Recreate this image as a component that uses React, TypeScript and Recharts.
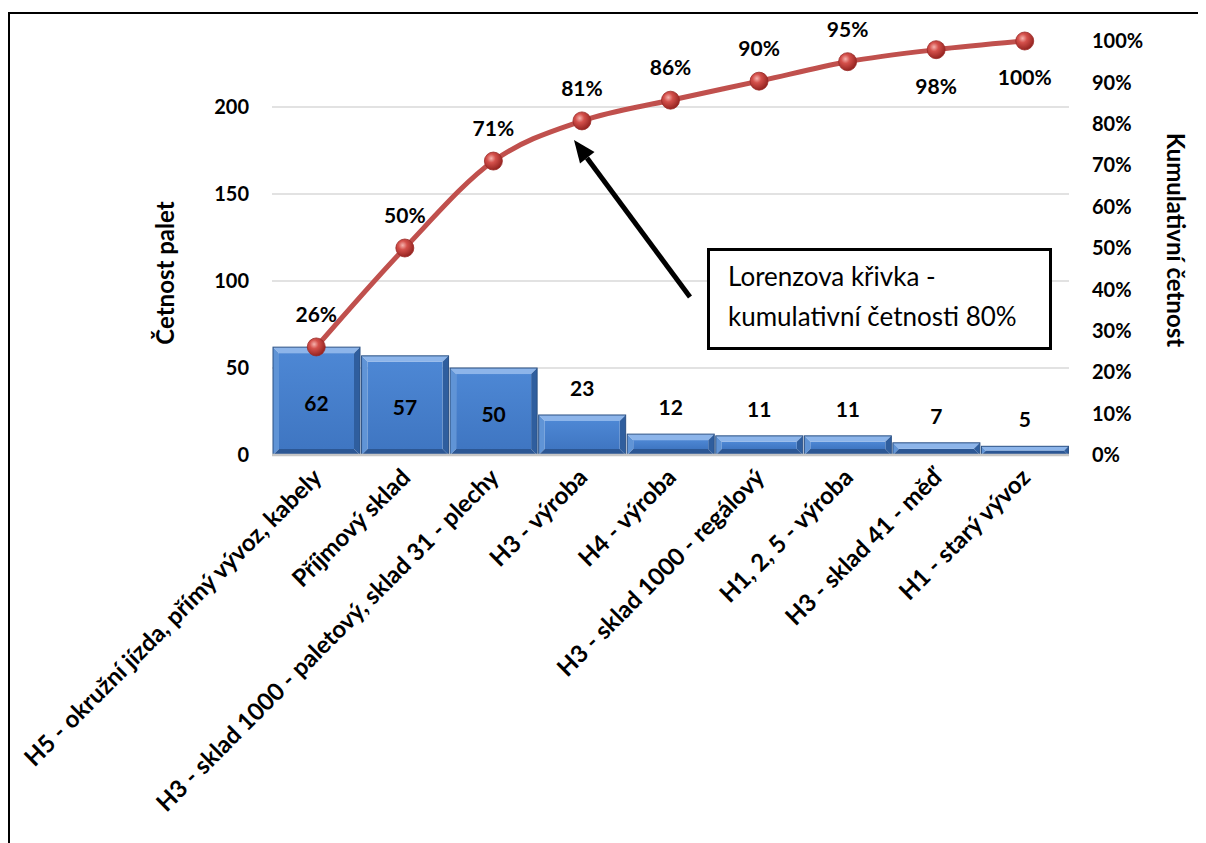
import { Bar, CartesianGrid, ComposedChart, LabelList, Line, XAxis, YAxis } from "recharts"

const categories = [
  "H5 - okružní jízda, přímý vývoz, kabely",
  "Příjmový sklad",
  "H3 - sklad 1000 - paletový, sklad 31 - plechy",
  "H3 - výroba",
  "H4 - výroba",
  "H3 - sklad 1000 - regálový",
  "H1, 2, 5 - výroba",
  "H3 - sklad 41 - měď",
  "H1 - starý vývoz",
]
const counts = [62, 57, 50, 23, 12, 11, 11, 7, 5]
const cumulativePct = [26.1, 50.0, 71.0, 80.7, 85.7, 90.3, 95.0, 97.9, 100]
const leftTicks = [0, 50, 100, 150, 200]
const rightTicks = [0, 10, 20, 30, 40, 50, 60, 70, 80, 90, 100]
const countMax = 238

const data = categories.map((name, i) => ({
  name,
  count: counts[i],
  cum: cumulativePct[i],
}))

const FONT = "Lato, 'Open Sans', sans-serif"

function BevelBar(props: any) {
  const { x, y, width: w, height: h } = props
  if (!h || h <= 0) return null
  const b = Math.min(6, h / 2, w / 2)
  return (
    <g>
      <polygon points={`${x},${y} ${x + w},${y} ${x + w - b},${y + b} ${x + b},${y + b}`} fill="#8db5ea" />
      <polygon points={`${x},${y} ${x + b},${y + b} ${x + b},${y + h - b} ${x},${y + h}`} fill="#6094d6" />
      <polygon points={`${x + w},${y} ${x + w},${y + h} ${x + w - b},${y + h - b} ${x + w - b},${y + b}`} fill="#2f5e9e" />
      <polygon points={`${x},${y + h} ${x + b},${y + h - b} ${x + w - b},${y + h - b} ${x + w},${y + h}`} fill="#2c5794" />
      <rect x={x + b} y={y + b} width={Math.max(0, w - 2 * b)} height={Math.max(0, h - 2 * b)} fill="url(#barFace)" />
      <rect x={x} y={y} width={w} height={h} fill="none" stroke="#2a5084" strokeWidth={1} />
    </g>
  )
}

function BarValue(props: any) {
  const { x, y, width, height, value, index } = props
  const cx = x + width / 2
  const ty = index < 3 ? y + height / 2 + 10 : y - 19
  return (
    <text x={cx} y={ty} textAnchor="middle" fontFamily={FONT} fontWeight={700} fontSize={21} fill="#000">
      {value}
    </text>
  )
}

function CumValue(props: any) {
  const { x, y, value, index } = props
  const below = index >= 7
  const ty = below ? y + 44 : y - 25
  return (
    <text x={x} y={ty} textAnchor="middle" fontFamily={FONT} fontWeight={700} fontSize={21} fill="#000">
      {Math.round(value)}%
    </text>
  )
}

function RedDot(props: any) {
  const { cx, cy } = props
  if (cx == null || cy == null) return null
  return <circle cx={cx} cy={cy} r={9} fill="url(#dotGrad)" stroke="#9b2a27" strokeWidth={0.8} />
}

function CategoryTick(props: any) {
  const { x, y, payload } = props
  return (
    <g transform={`translate(${x + 7},${y + 24})`}>
      <text transform="rotate(-45)" textAnchor="end" fontFamily={FONT} fontWeight={700} fontSize={24} fill="#000">
        {payload.value}
      </text>
    </g>
  )
}

export default function App() {
  const tickStyle = { fontFamily: FONT, fontWeight: 700, fontSize: 20, fill: "#000" }
  return (
    <div style={{ position: "relative", width: 1198, height: 835, background: "#fff" }}>
      <div style={{ position: "absolute", left: 0, top: 4, width: 1198, height: 831, borderLeft: "2px solid #000", borderTop: "2px solid #000" }} />
      <ComposedChart
        width={1198}
        height={835}
        data={data}
        margin={{ top: 33, right: 57, bottom: 8, left: 0 }}
        barCategoryGap={1}
        style={{ position: "absolute", left: 0, top: 0 }}
      >
        <defs>
          <linearGradient id="barFace" x1="0" y1="0" x2="0" y2="1">
            <stop offset="0%" stopColor="#4d87d4" />
            <stop offset="100%" stopColor="#3f76c2" />
          </linearGradient>
          <radialGradient id="dotGrad" cx="38%" cy="35%" r="70%">
            <stop offset="0%" stopColor="#f6b3ae" />
            <stop offset="35%" stopColor="#d4504b" />
            <stop offset="100%" stopColor="#8e1f1c" />
          </radialGradient>
        </defs>
        <CartesianGrid
          yAxisId="left"
          vertical={false}
          horizontal
          horizontalValues={leftTicks}
          stroke="#d9d9d9"
          strokeWidth={1.5}
        />
        <XAxis
          dataKey="name"
          interval={0}
          height={380}
          tickSize={0}
          tickMargin={0}
          tick={<CategoryTick />}
          axisLine={{ stroke: "#c6c6c6", strokeWidth: 2.5 }}
          tickLine={false}
        />
        <YAxis
          yAxisId="left"
          width={264}
          domain={[0, countMax]}
          ticks={leftTicks}
          allowDataOverflow
          axisLine={false}
          tickLine={false}
          tickMargin={17}
          tick={tickStyle}
        />
        <YAxis
          yAxisId="right"
          orientation="right"
          width={80}
          domain={[0, 100]}
          ticks={rightTicks}
          axisLine={false}
          tickLine={false}
          tickMargin={17}
          tickFormatter={(v: number) => `${v}%`}
          tick={tickStyle}
        />
        <Bar yAxisId="left" dataKey="count" shape={<BevelBar />} isAnimationActive={false}>
          <LabelList dataKey="count" content={<BarValue />} />
        </Bar>
        <Line
          yAxisId="right"
          type="monotone"
          dataKey="cum"
          stroke="#c0504d"
          strokeWidth={5}
          dot={<RedDot />}
          activeDot={false}
          isAnimationActive={false}
        >
          <LabelList dataKey="cum" content={<CumValue />} />
        </Line>
      </ComposedChart>
      <svg width={1198} height={835} style={{ position: "absolute", left: 0, top: 0, pointerEvents: "none" }}>
        <text
          x={156}
          y={265}
          transform="rotate(-90,156,265)"
          textAnchor="middle"
          dominantBaseline="central"
          fontFamily={FONT}
          fontWeight={700}
          fontSize={24}
          fill="#000"
        >
          Četnost palet
        </text>
        <text
          x={1168}
          y={232}
          transform="rotate(90,1168,232)"
          textAnchor="middle"
          dominantBaseline="central"
          fontFamily={FONT}
          fontWeight={700}
          fontSize={24}
          fill="#000"
        >
          Kumulativní četnost
        </text>
        <line x1={682} y1={289} x2={579} y2={150} stroke="#000" strokeWidth={5} />
        <polygon points="566,132 586.5,144 572,155.5" fill="#000" />
      </svg>
      <div
        style={{
          position: "absolute",
          left: 699,
          top: 240,
          width: 345,
          height: 102,
          border: "3px solid #000",
          background: "#fff",
          fontFamily: FONT,
          fontSize: 26,
          lineHeight: "40px",
          paddingLeft: 18,
          paddingTop: 5,
          boxSizing: "border-box",
          color: "#000",
          whiteSpace: "nowrap",
        }}
      >
        Lorenzova křivka -<br />
        kumulativní četnosti 80%
      </div>
    </div>
  )
}
